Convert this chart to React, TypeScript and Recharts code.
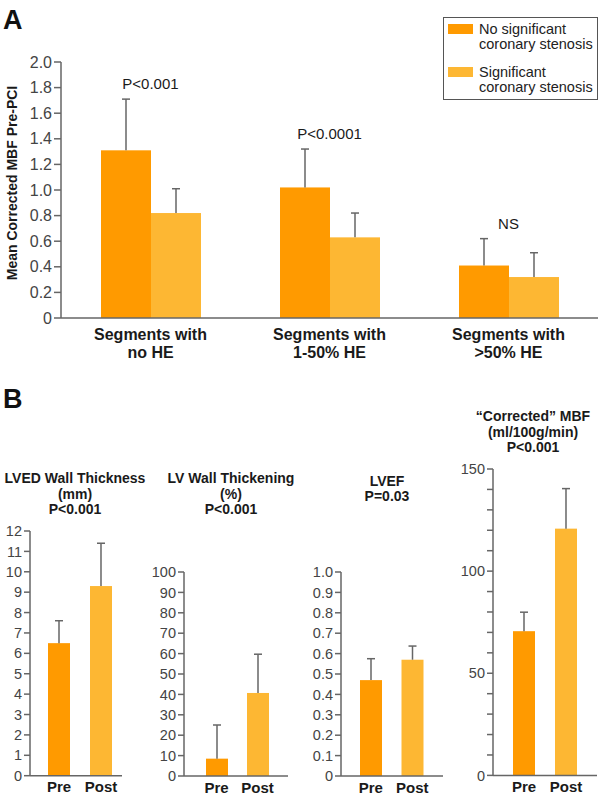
import React from 'react';
import { BarChart, Bar, XAxis, YAxis, Legend, ReferenceDot, Cell } from 'recharts';

// ---------- Panel A data ----------
const segmentCategories = ['Segments with\nno HE', 'Segments with\n1-50% HE', 'Segments with\n>50% HE'];
const noStenosisMean = [1.31, 1.02, 0.41];
const noStenosisErr = [0.40, 0.30, 0.21];
const stenosisMean = [0.82, 0.63, 0.32];
const stenosisErr = [0.19, 0.19, 0.19];
const pValueLabels = ['P<0.001', 'P<0.0001', 'NS'];
const seriesNames = ['No significant\ncoronary stenosis', 'Significant\ncoronary stenosis'];
const panelATicks = [0, 0.2, 0.4, 0.6, 0.8, 1.0, 1.2, 1.4, 1.6, 1.8, 2.0];

// ---------- Panel B data ----------
const prePostCategories = ['Pre', 'Post'];
const wallThicknessMean = [6.5, 9.3];
const wallThicknessErr = [1.1, 2.1];
const wallThicknessTicks = [0, 1, 2, 3, 4, 5, 6, 7, 8, 9, 10, 11, 12];
const wallThickeningMean = [8.5, 40.7];
const wallThickeningErr = [16.5, 19.0];
const wallThickeningTicks = [0, 10, 20, 30, 40, 50, 60, 70, 80, 90, 100];
const lvefMean = [0.47, 0.57];
const lvefErr = [0.105, 0.067];
const lvefTicks = [0, 0.1, 0.2, 0.3, 0.4, 0.5, 0.6, 0.7, 0.8, 0.9, 1.0];
const mbfMean = [70.6, 120.8];
const mbfErr = [9.3, 19.6];
const mbfTicks = [0, 10, 20, 30, 40, 50, 60, 70, 80, 90, 100, 110, 120, 130, 140, 150];
const mbfLabeledTicks = [0, 50, 100, 150];

const titleWallThickness = ['LVED Wall Thickness', '(mm)', 'P<0.001'];
const titleWallThickening = ['LV Wall Thickening', '(%)', 'P<0.001'];
const titleLvef = ['LVEF', 'P=0.03'];
const titleMbf = ['\u201CCorrected\u201D MBF', '(ml/100g/min)', 'P<0.001'];

// ---------- styles ----------
const DARK = '#FF9A00';
const LIGHT = '#FDB733';
const ERR = '#666666';
const AXIS = '#666666';
const TICK = '#444444';
const TEXT = '#1a1a1a';
const FONT = '"Liberation Sans", Arial, Helvetica, sans-serif';

const barWithError = (errKey: string) => (props: any) => {
  const { x, y, width, height, fill, payload, value } = props;
  const v = Array.isArray(value) ? value[1] - value[0] : value;
  const err = payload[errKey];
  const top = v > 0 ? y - (height / v) * err : y;
  const cx = x + width / 2;
  return (
    <g>
      <rect x={x} y={y} width={width} height={height} fill={fill} />
      <line x1={cx} y1={y} x2={cx} y2={top} stroke={ERR} strokeWidth={1.5} />
      <line x1={cx - 4} y1={top} x2={cx + 4} y2={top} stroke={ERR} strokeWidth={1.5} />
    </g>
  );
};

const SegmentTick = (props: any) => {
  const { x, y, payload } = props;
  const lines = String(payload.value).split('\n');
  return (
    <text x={x} y={y + 14} textAnchor="middle" fontSize={16} fontWeight="bold" fill={TEXT} fontFamily={FONT}>
      {lines.map((l, i) => (
        <tspan key={i} x={x} dy={i === 0 ? 0 : 18}>{l}</tspan>
      ))}
    </text>
  );
};

const renderLegend = (props: any) => {
  const { payload } = props;
  return (
    <div
      style={{
        border: '1.5px solid #555',
        background: '#fff',
        padding: '4px 0 0 4px',
        fontFamily: FONT,
        fontSize: 14.5,
        lineHeight: '15px',
        color: '#222',
        boxSizing: 'border-box',
        width: 155,
        height: 83,
        textAlign: 'left',
      }}
    >
      {(payload || []).map((e: any, i: number) => (
        <div key={i} style={{ display: 'flex', marginBottom: i === 0 ? 13 : 0 }}>
          <span style={{ display: 'inline-block', width: 25, height: 10, background: e.color, marginTop: 2, marginRight: 6, flex: 'none' }} />
          <span style={{ whiteSpace: 'pre' }}>{e.value}</span>
        </div>
      ))}
    </div>
  );
};

function PanelA() {
  const data = segmentCategories.map((c, i) => ({
    name: c,
    noSten: noStenosisMean[i],
    noStenErr: noStenosisErr[i],
    sten: stenosisMean[i],
    stenErr: stenosisErr[i],
  }));
  return (
    <div style={{ position: 'absolute', left: 0, top: 0 }}>
      <BarChart
        width={600}
        height={370}
        data={data}
        margin={{ top: 62, right: 2, bottom: 0, left: 0 }}
        barGap={0}
        barSize={50}
      >
        <XAxis
          dataKey="name"
          tickLine={false}
          axisLine={{ stroke: AXIS, strokeWidth: 1.5 }}
          tick={<SegmentTick />}
          height={52}
          interval={0}
        />
        <YAxis
          width={61}
          domain={[0, 2]}
          ticks={panelATicks}
          interval={0}
          tickFormatter={(v: number) => (v === 0 ? '0' : v.toFixed(1))}
          tick={{ fontSize: 16, fill: TICK, fontFamily: FONT }}
          tickSize={7}
          tickMargin={2}
          axisLine={{ stroke: AXIS, strokeWidth: 1.5 }}
          tickLine={{ stroke: AXIS, strokeWidth: 1.5 }}
          label={{
            content: (p: any) => {
              const vb = p.viewBox || { x: 0, y: 62, width: 61, height: 256 };
              const cx = vb.x + 12;
              const cy = vb.y + vb.height / 2 - 7;
              return (
                <text
                  x={cx}
                  y={cy}
                  transform={`rotate(-90 ${cx} ${cy})`}
                  textAnchor="middle"
                  dominantBaseline="central"
                  fontSize={14}
                  fontWeight="bold"
                  fill={TEXT}
                  fontFamily={FONT}
                >
                  Mean Corrected MBF Pre-PCI
                </text>
              );
            },
          }}
        />
        <Legend
          content={renderLegend}
          layout="vertical"
          align="center"
          verticalAlign="middle"
          wrapperStyle={{ position: 'absolute', top: 17, left: 443, width: 155, height: 83 }}
        />
        <Bar dataKey="noSten" name={seriesNames[0]} fill={DARK} isAnimationActive={false} shape={barWithError('noStenErr')} />
        <Bar dataKey="sten" name={seriesNames[1]} fill={LIGHT} isAnimationActive={false} shape={barWithError('stenErr')} />
        {data.map((d, i) => (
          <ReferenceDot
            key={i}
            x={d.name}
            y={Math.max(d.noSten + d.noStenErr, d.sten + d.stenErr) + 0.12}
            r={0}
            fill="none"
            stroke="none"
            label={{ value: pValueLabels[i], position: 'center', fontSize: 15, fill: TEXT, fontFamily: FONT }}
          />
        ))}
      </BarChart>
    </div>
  );
}

type Spec = {
  mean: number[];
  err: number[];
  ticks: number[];
  domain: [number, number];
  fmt: (v: number) => string;
  axisX: number;
  left: number;
  plotTop: number;
  axisEnd: number;
  padding: { left: number; right: number };
  title: string[];
  titleX: number;
  titleTop: number;
};

const PLOT_BOTTOM = 775.7;
const MT = 10;
const XH = 26;

function PrePostChart({ spec }: { spec: Spec }) {
  const data = prePostCategories.map((c, i) => ({ name: c, value: spec.mean[i], err: spec.err[i] }));
  const yW = spec.axisX - spec.left;
  const plotH = PLOT_BOTTOM - spec.plotTop;
  const width = spec.axisEnd - spec.left + 3;
  const height = MT + plotH + XH;
  return (
    <>
      <div
        style={{
          position: 'absolute',
          left: spec.titleX - 90,
          width: 180,
          top: spec.titleTop,
          textAlign: 'center',
          fontFamily: FONT,
          fontWeight: 'bold',
          fontSize: 14,
          lineHeight: '15.5px',
          color: TEXT,
        }}
      >
        {spec.title.map((t, i) => (
          <div key={i}>{t}</div>
        ))}
      </div>
      <div style={{ position: 'absolute', left: spec.left, top: spec.plotTop - MT }}>
        <BarChart width={width} height={height} data={data} margin={{ top: MT, right: 3, bottom: 0, left: 0 }}>
          <XAxis
            dataKey="name"
            tickLine={false}
            axisLine={{ stroke: AXIS, strokeWidth: 1.5 }}
            tick={{ fontSize: 15, fontWeight: 'bold', fill: TEXT, fontFamily: FONT }}
            padding={spec.padding}
            height={XH}
            interval={0}
            tickMargin={0}
          />
          <YAxis
            width={yW}
            domain={spec.domain}
            ticks={spec.ticks}
            interval={0}
            tickFormatter={spec.fmt}
            tick={{ fontSize: 14.5, fill: TICK, fontFamily: FONT }}
            tickSize={6}
            tickMargin={2}
            axisLine={{ stroke: AXIS, strokeWidth: 1.5 }}
            tickLine={{ stroke: AXIS, strokeWidth: 1.5 }}
          />
          <Bar dataKey="value" barSize={22} isAnimationActive={false} shape={barWithError('err')}>
            {data.map((d, i) => (
              <Cell key={i} fill={i === 0 ? DARK : LIGHT} />
            ))}
          </Bar>
        </BarChart>
      </div>
    </>
  );
}

const specs: Spec[] = [
  {
    mean: wallThicknessMean,
    err: wallThicknessErr,
    ticks: wallThicknessTicks,
    domain: [0, 12],
    fmt: (v) => String(v),
    axisX: 30,
    left: 0,
    plotTop: 531,
    axisEnd: 122,
    padding: { left: 8, right: 0 },
    title: titleWallThickness,
    titleX: 75,
    titleTop: 471,
  },
  {
    mean: wallThickeningMean,
    err: wallThickeningErr,
    ticks: wallThickeningTicks,
    domain: [0, 100],
    fmt: (v) => String(v),
    axisX: 184,
    left: 150,
    plotTop: 571.7,
    axisEnd: 288,
    padding: { left: 12, right: 10 },
    title: titleWallThickening,
    titleX: 231,
    titleTop: 471,
  },
  {
    mean: lvefMean,
    err: lvefErr,
    ticks: lvefTicks,
    domain: [0, 1],
    fmt: (v) => (v === 0 ? '0' : v.toFixed(1)),
    axisX: 341,
    left: 307,
    plotTop: 571.7,
    axisEnd: 443,
    padding: { left: 9, right: 10 },
    title: titleLvef,
    titleX: 387,
    titleTop: 473.5,
  },
  {
    mean: mbfMean,
    err: mbfErr,
    ticks: mbfTicks,
    domain: [0, 150],
    fmt: (v) => (mbfLabeledTicks.includes(v) ? String(v) : ''),
    axisX: 493,
    left: 459,
    plotTop: 469.3,
    axisEnd: 597,
    padding: { left: 10, right: 10 },
    title: titleMbf,
    titleX: 533,
    titleTop: 409,
  },
];

export default function App() {
  return (
    <div
      style={{
        position: 'absolute',
        left: 0,
        top: 0,
        width: 600,
        height: 800,
        background: '#fff',
        overflow: 'hidden',
        fontFamily: FONT,
      }}
    >
      <div style={{ position: 'absolute', left: 3, top: 5, fontSize: 27, fontWeight: 'bold', color: '#111', lineHeight: '30px' }}>A</div>
      <div style={{ position: 'absolute', left: 3, top: 384, fontSize: 27, fontWeight: 'bold', color: '#111', lineHeight: '30px' }}>B</div>
      <PanelA />
      {specs.map((s, i) => (
        <PrePostChart key={i} spec={s} />
      ))}
    </div>
  );
}
